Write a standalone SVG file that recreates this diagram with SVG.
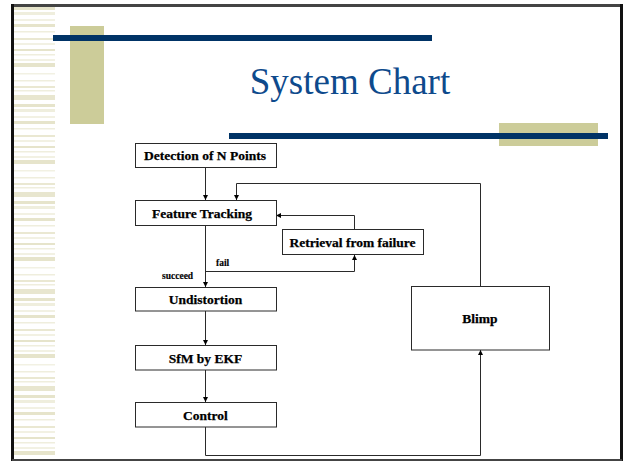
<svg xmlns="http://www.w3.org/2000/svg" width="624" height="461" viewBox="0 0 624 461">
  <defs>
    <style>
      .box { fill: #ffffff; stroke: #2a2a2a; stroke-width: 1; }
      .lbl { font-family: "Liberation Serif", "Times New Roman", serif; font-weight: bold; font-size: 13.5px; fill: #000; stroke: #000; stroke-width: 0.25; text-anchor: middle; }
      .small { font-family: "Liberation Serif", "Times New Roman", serif; font-weight: bold; font-size: 9.5px; fill: #000; stroke: #000; stroke-width: 0.15; }
      .conn { fill: none; stroke: #2a2a2a; stroke-width: 1; }
      .arr { marker-end: url(#ah); }
    </style>
    <marker id="ah" markerUnits="userSpaceOnUse" markerWidth="6" markerHeight="6" refX="5" refY="2.5" orient="auto">
      <path d="M0,0 L5,2.5 L0,5 z" fill="#000"/>
    </marker>
    <pattern id="stripes" patternUnits="userSpaceOnUse" x="14" y="7" width="41" height="97">
      <rect x="0" y="0" width="41" height="3" fill="#e6e4cb"/>
      <rect x="0" y="5" width="41" height="3" fill="#efeedd"/>
      <rect x="0" y="12" width="41" height="2" fill="#f2f1e3"/>
      <rect x="0" y="17" width="41" height="3" fill="#e6e4cb"/>
      <rect x="0" y="24" width="41" height="1.5" fill="#efeedd"/>
      <rect x="0" y="31" width="41" height="2" fill="#eae8d2"/>
      <rect x="0" y="36" width="41" height="2" fill="#f2f1e3"/>
      <rect x="0" y="42" width="41" height="2" fill="#e6e4cb"/>
      <rect x="0" y="47" width="41" height="1.5" fill="#efeedd"/>
      <rect x="0" y="52" width="41" height="2" fill="#f2f1e3"/>
      <rect x="0" y="56" width="41" height="4" fill="#e6e4cb"/>
      <rect x="0" y="66" width="41" height="1.5" fill="#f2f1e3"/>
      <rect x="0" y="73" width="41" height="1.5" fill="#efeedd"/>
      <rect x="0" y="79" width="41" height="2" fill="#eae8d2"/>
      <rect x="0" y="83" width="41" height="1.5" fill="#efeedd"/>
      <rect x="0" y="88" width="41" height="5" fill="#e8e6cf"/>
    </pattern>
  </defs>

  <rect x="0" y="0" width="624" height="461" fill="#ffffff"/>

  <!-- left striped strip -->
  <rect x="14" y="7" width="41" height="452" fill="url(#stripes)"/>

  <!-- frame -->
  <line x1="12" y1="5.5" x2="622" y2="5.5" stroke="#444" stroke-width="3"/>
  <line x1="12.5" y1="4" x2="12.5" y2="461" stroke="#111" stroke-width="3"/>
  <line x1="621.5" y1="4" x2="621.5" y2="461" stroke="#111" stroke-width="3"/>
  <line x1="12" y1="460" x2="622" y2="460" stroke="#444" stroke-width="2"/>

  <!-- decoration -->
  <rect x="70" y="26" width="34" height="98" fill="#cccc99"/>
  <rect x="53" y="35" width="379" height="6" fill="#003366"/>
  <rect x="499" y="123" width="99" height="23" fill="#cccc99"/>
  <rect x="229" y="133" width="379" height="6" fill="#003366"/>

  <text x="350" y="94" font-family="Liberation Serif, 'Times New Roman', serif" font-size="37" fill="#0e4a8c" text-anchor="middle">System Chart</text>

  <!-- connectors -->
  <g id="connectors">
    <path class="conn arr" d="M205.5,168 V200"/>
    <path class="conn arr" d="M205.5,226 V287"/>
    <path class="conn arr" d="M205.5,271.5 H354.5 V255"/>
    <path class="conn arr" d="M354.5,229 V215.5 H276"/>
    <path class="conn arr" d="M205.5,311 V345"/>
    <path class="conn arr" d="M205.5,370 V402"/>
    <path class="conn arr" d="M205.5,427 V455.5 H480.5 V350"/>
    <path class="conn arr" d="M480.5,286 V183.5 H236.5 V200"/>
    <text class="small" x="216" y="266">fail</text>
    <text class="small" x="162" y="279">succeed</text>
  </g>

  <g id="detection">
    <rect class="box" x="135.5" y="143.5" width="141" height="24"/>
    <text class="lbl" x="205" y="160">Detection of N Points</text>
  </g>
  <g id="feature-tracking">
    <rect class="box" x="135.5" y="200.5" width="141" height="25"/>
    <text class="lbl" x="202" y="217.5">Feature Tracking</text>
  </g>
  <g id="retrieval">
    <rect class="box" x="282.5" y="229.5" width="141" height="25"/>
    <text class="lbl" x="352.5" y="246.5">Retrieval from failure</text>
  </g>
  <g id="undistortion">
    <rect class="box" x="135.5" y="287.5" width="141" height="23.5"/>
    <text class="lbl" x="205.5" y="304">Undistortion</text>
  </g>
  <g id="sfm">
    <rect class="box" x="135.5" y="345.5" width="141" height="24.5"/>
    <text class="lbl" x="205.5" y="362.5">SfM by EKF</text>
  </g>
  <g id="control">
    <rect class="box" x="135.5" y="402.5" width="141" height="24.5"/>
    <text class="lbl" x="205.5" y="419.5">Control</text>
  </g>
  <g id="blimp">
    <rect class="box" x="411.5" y="286.5" width="138" height="63.5"/>
    <text class="lbl" x="480" y="323">Blimp</text>
  </g>
</svg>
